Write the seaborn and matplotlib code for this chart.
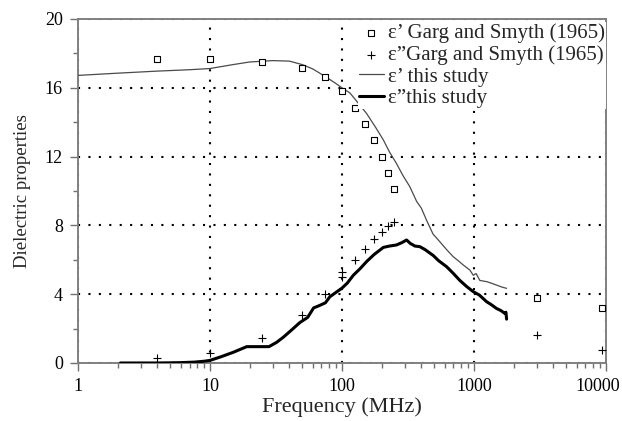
import numpy as np
import pandas as pd
import matplotlib
matplotlib.use("Agg")
import matplotlib.pyplot as plt
import matplotlib.transforms as mtransforms
import seaborn as sns

# ── Data ──────────────────────────────────────────────────────────────────────
garg_freq_e1 = [4, 10, 25, 50, 75, 100, 125, 150, 175, 200, 225, 250, 3000, 9300]
garg_e1      = [17.7, 17.7, 17.5, 17.15, 16.6, 15.8, 14.8, 13.9, 12.95, 12.0, 11.05, 10.1, 3.75, 3.2]

garg_freq_e2 = [4, 10, 25, 50, 75, 100, 100, 125, 150, 175, 200, 225, 250, 3000, 9300]
garg_e2      = [0.3, 0.6, 1.45, 2.8, 4.0, 5.0, 5.3, 6.0, 6.6, 7.2, 7.6, 7.95, 8.2, 1.6, 0.75]

study_freq_e1 = [1, 2, 4, 7, 10, 15, 20, 30, 40, 50, 60, 75, 90, 100, 115, 130, 154,
                 180, 206, 230, 259, 290, 327, 368, 400, 438, 490, 552, 620, 697,
                 760, 830, 933, 990, 1040, 1110, 1250, 1380, 1485, 1620, 1770]
study_e1      = [16.72, 16.85, 16.97, 17.05, 17.12, 17.35, 17.5, 17.58, 17.55, 17.35,
                 17.1, 16.65, 16.25, 16.0, 15.7, 15.2, 14.5, 13.7, 12.97, 12.25, 11.6,
                 10.9, 10.25, 9.4, 9.0, 8.3, 7.5, 7.05, 6.6, 6.18, 5.95, 5.7, 5.4,
                 5.1, 5.2, 4.8, 4.73, 4.62, 4.53, 4.42, 4.34]

study_freq_e2 = [2.1, 4, 6, 7.6, 9, 10, 12, 15, 19, 23, 28, 32, 36, 42, 48, 55, 61, 68,
                 75, 81, 90, 100, 110, 122, 138, 154, 175, 206, 230, 259, 285, 309,
                 330, 357, 390, 425, 492, 540, 621, 700, 783, 880, 988, 1100, 1250,
                 1350, 1485, 1600, 1718, 1750, 1770]
study_e2      = [0.0, 0.0, 0.02, 0.05, 0.1, 0.15, 0.35, 0.62, 0.95, 0.95, 0.95, 1.2,
                 1.5, 1.95, 2.35, 2.65, 3.2, 3.35, 3.5, 3.85, 4.1, 4.35, 4.65, 5.1,
                 5.5, 5.9, 6.3, 6.72, 6.8, 6.86, 7.0, 7.15, 6.95, 6.8, 6.76, 6.6,
                 6.25, 5.95, 5.6, 5.2, 4.8, 4.45, 4.15, 3.95, 3.56, 3.4, 3.17, 3.05,
                 2.88, 2.95, 2.55]

labels = ["\u03b5\u2019 Garg and Smyth (1965)",
          "\u03b5\u201dGarg and Smyth (1965)",
          "\u03b5\u2019 this study",
          "\u03b5\u201dthis study"]

x_ticks      = [1, 10, 100, 1000, 10000]
x_ticklabels = ["1", "10", "100", "1000", "10000"]
y_ticks      = [0, 4, 8, 12, 16, 20]

# ── Style ─────────────────────────────────────────────────────────────────────
sns.set_theme(style="ticks")
plt.rcParams["font.family"] = ["Liberation Serif", "DejaVu Serif"]
plt.rcParams["font.size"] = 13

fig = plt.figure(figsize=(6.22, 4.21), dpi=100)
ax = fig.add_axes([0.1254, 0.1378, 0.8486, 0.8171])

sns.scatterplot(x=garg_freq_e1, y=garg_e1, marker="s", s=18, facecolor="white",
                edgecolor="black", linewidth=0.8, ax=ax, label=labels[0], zorder=4)
sns.scatterplot(x=garg_freq_e2, y=garg_e2, marker="+", s=28, color="black",
                linewidth=0.8, ax=ax, label=labels[1], zorder=4)
sns.lineplot(x=study_freq_e1, y=study_e1, color="#4a4a4a", linewidth=0.9,
             ax=ax, label=labels[2], sort=False, estimator=None, zorder=3)
sns.lineplot(x=study_freq_e2, y=study_e2, color="black", linewidth=2.2,
             ax=ax, label=labels[3], sort=False, estimator=None, zorder=3)

ax.set_xscale("log")
ax.set_xlim(1, 10000)
ax.set_ylim(0, 20)
ax.set_yticks(y_ticks)
ax.set_yticks([2, 6, 10, 14, 18], minor=True)
ax.set_xticks(x_ticks)
ax.set_xticklabels(x_ticklabels)

ax.tick_params(axis="both", which="major", direction="out", length=5.8, width=1,
               color="#707070", labelsize=13, labelcolor="black", pad=5)
ax.tick_params(axis="both", which="minor", direction="out", length=3.6, width=1,
               color="#707070")

# last x label sits slightly left of its tick, as in the original
last = ax.get_xticklabels()[-1]
last.set_transform(last.get_transform() +
                   mtransforms.ScaledTranslation(-0.08, 0, fig.dpi_scale_trans))

for sp in ax.spines.values():
    sp.set_visible(True)
    sp.set_color("#808080")
    sp.set_linewidth(1.4)

ax.grid(True, which="major", color="black", linestyle=(0, (1, 4)), linewidth=1.5)
ax.set_axisbelow(True)

ax.set_xlabel("Frequency (MHz)", fontsize=16, labelpad=2)
ax.set_ylabel("Dielectric properties", fontsize=13.5, labelpad=10)

leg = ax.legend(loc="upper right", bbox_to_anchor=(1.0, 0.99), fontsize=15,
                frameon=True, facecolor="white", edgecolor="none", framealpha=1,
                fancybox=False, borderpad=0.05, labelspacing=0.1,
                handlelength=1.2, handletextpad=0.2, borderaxespad=0.0)
leg.set_zorder(5)

fig.savefig("out.png", dpi=100)
